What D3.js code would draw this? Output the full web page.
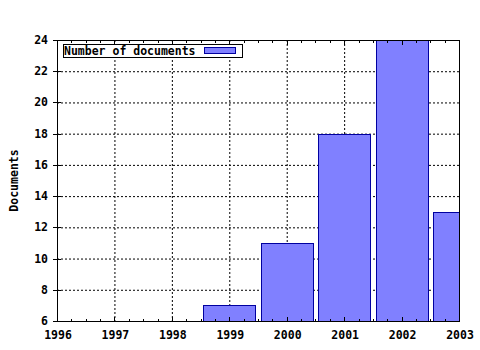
<!DOCTYPE html>
<html lang="en">
<head>
  <meta charset="utf-8">
  <title>Number of documents</title>
  <script src="https://cdn.jsdelivr.net/npm/d3@7/dist/d3.min.js"></script>
  <style>
    body { margin: 0; background: #fff; }
    text { font-family: "DejaVu Sans Mono", monospace; font-weight: bold; font-size: 11.5px; fill: #000; }
  </style>
</head>
<body>
  <script>
    // data
    var years = [1999, 2000, 2001, 2002, 2003];
    var documents = [7, 11, 18, 24, 13];
    var xTicks = [1996, 1997, 1998, 1999, 2000, 2001, 2002, 2003];
    var yTicks = [6, 8, 10, 12, 14, 16, 18, 20, 22, 24];
    var seriesName = "Number of documents";
    var yLabel = "Documents";

    var margin = { top: 40, right: 21, bottom: 29, left: 57 };
    var width = 480 - margin.left - margin.right;
    var height = 350 - margin.top - margin.bottom;

    var svg = d3.select("body").append("svg")
      .attr("width", 480)
      .attr("height", 350);

    var g = svg.append("g")
      .attr("transform", "translate(" + margin.left + "," + margin.top + ")");

    var x = d3.scaleLinear().domain([1996, 2003]).range([0, width]);
    var y = d3.scaleLinear().domain([6, 24]).range([height, 0]);

    g.append("clipPath").attr("id", "plot")
      .append("rect").attr("width", width).attr("height", height);

    // dotted grid
    g.selectAll(".hgrid")
      .data(yTicks.slice(1, -1))
      .enter().append("line")
      .attr("x1", 0).attr("x2", width)
      .attr("y1", function(d) { return y(d) + 0.5; })
      .attr("y2", function(d) { return y(d) + 0.5; })
      .attr("stroke", "#000")
      .attr("stroke-dasharray", "2,2");

    g.selectAll(".vgrid")
      .data(xTicks.slice(1, -1))
      .enter().append("line")
      .attr("x1", function(d) { return x(d) + 0.5; })
      .attr("x2", function(d) { return x(d) + 0.5; })
      .attr("y1", 0).attr("y2", height)
      .attr("stroke", "#000")
      .attr("stroke-dasharray", "2,2");

    // bars
    var barW = x(1996.9) - x(1996);
    g.append("g").attr("clip-path", "url(#plot)")
      .selectAll("rect")
      .data(years)
      .enter().append("rect")
      .attr("x", function(d) { return Math.round(x(d) - barW / 2) + 0.5; })
      .attr("y", function(d, i) { return Math.round(y(documents[i])) + 0.5; })
      .attr("width", Math.round(barW))
      .attr("height", function(d, i) { return height - Math.round(y(documents[i])) + 2; })
      .attr("fill", "#8080ff")
      .attr("stroke", "#0000a0");

    // frame
    g.append("rect")
      .attr("x", 0.5).attr("y", 0.5)
      .attr("width", width).attr("height", height)
      .attr("fill", "none")
      .attr("stroke", "#000");

    // minor ticks top and bottom
    var minor = d3.range(0, 29).map(function(i) { return 1996 + i / 4; });
    g.selectAll(".mtick")
      .data(minor)
      .enter().append("path")
      .attr("d", function(d) {
        var px = Math.round(x(d)) + 0.5;
        var len = (d % 1 === 0) ? 5 : 3;
        return "M" + px + ",0V" + len + "M" + px + "," + (height + 1) + "V" + (height + 1 - len);
      })
      .attr("stroke", "#000");

    // y ticks
    g.selectAll(".ytick")
      .data(yTicks)
      .enter().append("path")
      .attr("d", function(d) {
        var py = Math.round(y(d)) + 0.5;
        return "M-4," + py + "H4";
      })
      .attr("stroke", "#000");

    g.selectAll(".ylab")
      .data(yTicks)
      .enter().append("text")
      .attr("x", -9)
      .attr("y", function(d) { return y(d); })
      .attr("dy", "0.35em")
      .attr("text-anchor", "end")
      .text(function(d) { return d; });

    g.selectAll(".xlab")
      .data(xTicks)
      .enter().append("text")
      .attr("x", function(d) { return x(d) + 1; })
      .attr("y", height + 18)
      .attr("text-anchor", "middle")
      .text(function(d) { return d; });

    svg.append("text")
      .attr("transform", "translate(18," + (margin.top + height / 2) + ") rotate(-90)")
      .attr("text-anchor", "middle")
      .text(yLabel);

    // legend
    var legend = g.append("g").attr("transform", "translate(6,4)");
    legend.append("rect")
      .attr("x", 0.5).attr("y", 0.5)
      .attr("width", 179).attr("height", 13)
      .attr("fill", "#fff")
      .attr("stroke", "#000");
    legend.append("text")
      .attr("x", 1)
      .attr("y", 7)
      .attr("dy", "0.35em")
      .text(seriesName);
    legend.append("rect")
      .attr("x", 141.5).attr("y", 3.5)
      .attr("width", 31).attr("height", 6)
      .attr("fill", "#8080ff")
      .attr("stroke", "#0000a0");
  </script>
</body>
</html>
